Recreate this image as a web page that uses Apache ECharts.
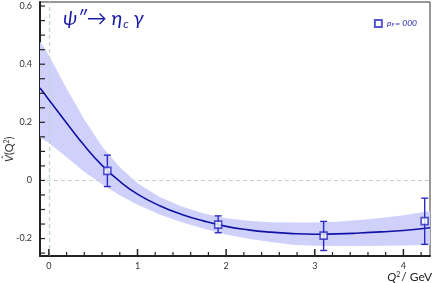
<!DOCTYPE html>
<html><head><meta charset="utf-8">
<script src="https://cdn.jsdelivr.net/npm/echarts@6/dist/echarts.min.js"></script>
<style>html,body{margin:0;padding:0;background:#fff}#c{width:436px;height:283px}</style>
</head><body><div id="c"></div>
<script>
// Fit curve and uncertainty band
const bandQ2     = [-0.1, 0, 0.2, 0.4, 0.6, 0.8, 1.0, 1.25, 1.5, 1.75, 2.0, 2.25, 2.5, 2.75, 3.0, 3.25, 3.5, 3.75, 4.0, 4.3];
const curveVals  = [0.318, 0.278, 0.198, 0.12, 0.052, -0.003, -0.047, -0.087, -0.117, -0.14, -0.158, -0.17, -0.178, -0.183, -0.185, -0.184, -0.181, -0.177, -0.172, -0.163];
const bandUpper  = [0.478, 0.43, 0.316, 0.21, 0.117, 0.045, -0.01, -0.057, -0.09, -0.114, -0.13, -0.139, -0.144, -0.145, -0.145, -0.142, -0.136, -0.129, -0.12, -0.105];
const bandLower  = [0.147, 0.13, 0.08, 0.03, -0.013, -0.051, -0.084, -0.117, -0.144, -0.166, -0.186, -0.201, -0.212, -0.221, -0.225, -0.226, -0.226, -0.225, -0.224, -0.221];
// Data points with error bars
const pointQ2    = [0.66, 1.91, 3.10, 4.24];
const pointVals  = [0.033, -0.152, -0.190, -0.140];
const errLow     = [-0.021, -0.180, -0.241, -0.220];
const errHigh    = [0.087, -0.122, -0.141, -0.061];
// Ticks
const xTickLabels = [0, 1, 2, 3, 4];
const xMinorTicks = [0.2, 0.4, 0.6, 0.8, 1.2, 1.4, 1.6, 1.8, 2.2, 2.4, 2.6, 2.8, 3.2, 3.4, 3.6, 3.8, 4.2];
const yTickLabels = [-0.2, 0, 0.2, 0.4, 0.6];
const yTicks = [-0.25, -0.2, -0.15, -0.1, -0.05, 0, 0.05, 0.1, 0.15, 0.2, 0.25, 0.3, 0.35, 0.4, 0.45, 0.5, 0.55, 0.6];

const X_MIN = -0.1, X_MAX = 4.3, Y_MIN = -0.26, Y_MAX = 0.614;
const BLUE_LINE = '#1212a6';
const BLUE_PT = '#2b2bc0';
const FONT = 'Lato, "Open Sans", sans-serif';

const chart = echarts.init(document.getElementById('c'), null, {renderer: 'canvas'});

// tick marks list: [value, kind] kind 0 = x major, 1 = x minor, 2 = y
const tickData = [].concat(
  xTickLabels.map(v => [v, 0]),
  xMinorTicks.map(v => [v, 1]),
  yTicks.map(v => [v, 2])
);

const option = {
  animation: false,
  backgroundColor: '#fff',
  grid: {left: 40, right: 6, top: 2, bottom: 27, show: true, borderColor: '#333', borderWidth: 1, backgroundColor: 'transparent'},
  xAxis: [{
    type: 'value', min: X_MIN, max: X_MAX, position: 'bottom',
    axisLine: {show: true, onZero: false, lineStyle: {color: '#222', width: 2}},
    axisTick: {show: false},
    axisLabel: {show: true, customValues: xTickLabels, fontSize: 9, color: '#333', margin: 6, fontFamily: FONT},
    splitLine: {show: false}
  }],
  yAxis: [{
    type: 'value', min: Y_MIN, max: Y_MAX,
    axisLine: {show: true, onZero: false, lineStyle: {color: '#222', width: 2}},
    axisTick: {show: false},
    axisLabel: {show: true, customValues: yTickLabels, fontSize: 9, color: '#333', margin: 8, fontFamily: FONT,
      formatter: v => (Math.abs(v) < 1e-9 ? '0' : String(Math.round(v * 10) / 10))},
    splitLine: {show: false}
  }],
  legend: {
    show: true, right: 14, top: 14, itemWidth: 7, itemHeight: 7, itemGap: 6,
    data: [{name: 'pF', icon: 'rect'}],
    formatter: () => '{p|p}{s|F}{p|= 000}',
    textStyle: {rich: {
      p: {fontSize: 8.5, fontStyle: 'italic', color: '#2b2bb0', fontFamily: FONT},
      s: {fontSize: 5.5, fontStyle: 'italic', color: '#2b2bb0', verticalAlign: 'bottom', padding: [4, 1, 0, 0], fontFamily: FONT}
    }}
  },
  graphic: [
    {type: 'text', left: 63, top: 9, z: 10, style: {
      text: '{a|ψ″}{r|→}{a| η}{s|c}{a| γ}',
      rich: {
        a: {fontSize: 20, fontStyle: 'italic', fill: '#1a1aa6', fontFamily: FONT},
        r: {fontSize: 20, fill: '#1a1aa6', fontFamily: FONT},
        s: {fontSize: 12, fontStyle: 'italic', fill: '#1a1aa6', fontFamily: FONT, padding: [10, 0, 0, 1]}
      }
    }},
    {type: 'text', x: 3, y: 162, rotation: Math.PI / 2, z: 10, style: {
      text: '{v|V̂}{t|(Q}{u|2}{t|)}',
      rich: {
        v: {fontSize: 11, fontStyle: 'italic', fill: '#333', fontFamily: FONT},
        t: {fontSize: 11, fill: '#333', fontFamily: FONT},
        u: {fontSize: 7, fill: '#333', fontFamily: FONT, padding: [0, 0, 5, 0]}
      }
    }},
    {type: 'text', right: 4, top: 271, z: 10, style: {
      text: '{q|Q}{u|2}{g|/ GeV}',
      rich: {
        q: {fontSize: 12, fontStyle: 'italic', fill: '#222', fontFamily: FONT},
        u: {fontSize: 7, fill: '#222', fontFamily: FONT, padding: [0, 1, 6, 0]},
        g: {fontSize: 12, fill: '#222', fontFamily: FONT}
      }
    }}
  ],
  series: [
    {
      type: 'custom', name: 'band', z: 1, silent: true, clip: true,
      data: [[0, 0]],
      renderItem: function (params, api) {
        const pts = [];
        for (let i = 0; i < bandQ2.length; i++) pts.push(api.coord([bandQ2[i], bandUpper[i]]));
        for (let i = bandQ2.length - 1; i >= 0; i--) pts.push(api.coord([bandQ2[i], bandLower[i]]));
        return {type: 'polygon', shape: {points: pts}, style: {fill: '#cfd1fb'}};
      }
    },
    {
      type: 'line', name: 'fit', z: 3, smooth: true, showSymbol: false, silent: true,
      data: bandQ2.map((x, i) => [x, curveVals[i]]),
      lineStyle: {color: BLUE_LINE, width: 1.6},
      markLine: {
        silent: true, symbol: 'none', z: 2,
        label: {show: false},
        lineStyle: {color: '#c2d3cf', type: [4, 3], width: 1.2},
        data: [{xAxis: 0}, {yAxis: 0}]
      }
    },
    {
      type: 'custom', name: 'ticks', z: 6, silent: true, clip: false,
      data: tickData,
      renderItem: function (params, api) {
        const v = api.value(0), k = api.value(1);
        const st = {stroke: '#222', lineWidth: k === 0 ? 1.5 : 1.2};
        if (k === 2) {
          const p = api.coord([X_MIN, v]);
          return {type: 'line', shape: {x1: p[0], y1: p[1], x2: p[0] + 5, y2: p[1]}, style: st};
        }
        const p = api.coord([v, Y_MIN]);
        const len = k === 0 ? 7 : 4;
        return {type: 'line', shape: {x1: p[0], y1: p[1], x2: p[0], y2: p[1] - len}, style: st};
      }
    },
    {
      type: 'custom', name: 'err', z: 4, silent: true,
      data: pointQ2.map((x, i) => [x, errLow[i], errHigh[i]]),
      renderItem: function (params, api) {
        const x = api.value(0);
        const lo = api.coord([x, api.value(1)]);
        const hi = api.coord([x, api.value(2)]);
        const w = 3.5;
        const st = {stroke: BLUE_PT, lineWidth: 1.4};
        return {type: 'group', children: [
          {type: 'line', shape: {x1: lo[0], y1: lo[1], x2: hi[0], y2: hi[1]}, style: st},
          {type: 'line', shape: {x1: lo[0] - w, y1: lo[1], x2: lo[0] + w, y2: lo[1]}, style: st},
          {type: 'line', shape: {x1: hi[0] - w, y1: hi[1], x2: hi[0] + w, y2: hi[1]}, style: st}
        ]};
      }
    },
    {
      type: 'scatter', name: 'pF', z: 5, symbol: 'rect', symbolSize: 7,
      data: pointQ2.map((x, i) => [x, pointVals[i]]),
      itemStyle: {color: '#fff', borderColor: BLUE_PT, borderWidth: 1.6}
    }
  ]
};
chart.setOption(option);
</script>
</body></html>
